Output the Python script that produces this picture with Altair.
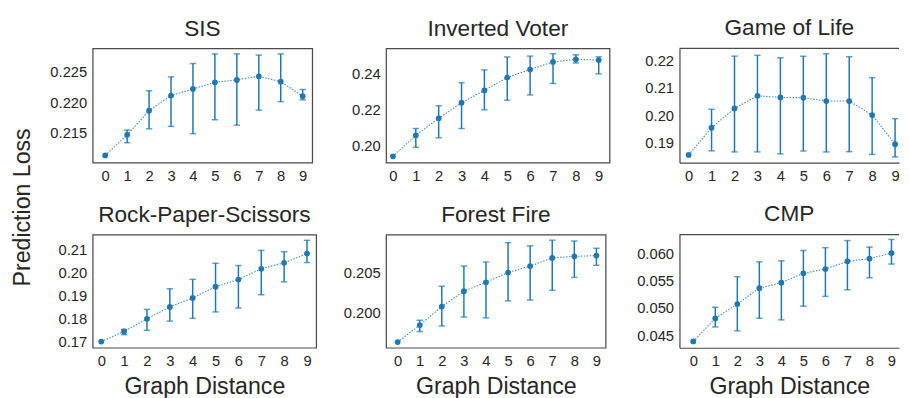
import altair as alt
import pandas as pd

BLUE = "#1f77b4"
FRAME = "#4a4a4a"
TEXT = "#262626"
FONT = "Liberation Sans"

distance = list(range(10))

titles = ["SIS", "Inverted Voter", "Game of Life",
          "Rock-Paper-Scissors", "Forest Fire", "CMP"]

sis_mean = [0.2112, 0.2146, 0.2186, 0.2211, 0.2222, 0.2233, 0.2237, 0.2243, 0.2234, 0.2210]
sis_lo = [0.2112, 0.2133, 0.2156, 0.2160, 0.2148, 0.2171, 0.2162, 0.2187, 0.2201, 0.2204]
sis_hi = [0.2112, 0.2154, 0.2219, 0.2242, 0.2264, 0.2280, 0.2280, 0.2278, 0.2280, 0.2221]

iv_mean = [0.1942, 0.2058, 0.2151, 0.2237, 0.2305, 0.2376, 0.2420, 0.2462, 0.2476, 0.2472]
iv_lo = [0.1942, 0.1991, 0.2044, 0.2095, 0.2198, 0.2251, 0.2280, 0.2343, 0.2456, 0.2396]
iv_hi = [0.1942, 0.2095, 0.2220, 0.2347, 0.2418, 0.2489, 0.2494, 0.2507, 0.2501, 0.2490]

gol_mean = [0.1856, 0.1955, 0.2025, 0.2071, 0.2065, 0.2064, 0.2052, 0.2052, 0.2001, 0.1895]
gol_lo = [0.1856, 0.1871, 0.1867, 0.1867, 0.1860, 0.1870, 0.1867, 0.1868, 0.1858, 0.1849]
gol_hi = [0.1856, 0.2022, 0.2215, 0.2218, 0.2209, 0.2215, 0.2224, 0.2213, 0.2137, 0.1988]

rps_mean = [0.1700, 0.1744, 0.1799, 0.1851, 0.1890, 0.1939, 0.1970, 0.2017, 0.2043, 0.2083]
rps_lo = [0.1700, 0.1730, 0.1749, 0.1789, 0.1801, 0.1829, 0.1846, 0.1904, 0.1960, 0.2044]
rps_hi = [0.1700, 0.1753, 0.1840, 0.1930, 0.1971, 0.2041, 0.2031, 0.2097, 0.2091, 0.2141]

ff_mean = [0.1964, 0.1985, 0.2008, 0.2027, 0.2038, 0.2050, 0.2058, 0.2068, 0.2070, 0.2071]
ff_lo = [0.1964, 0.1977, 0.1984, 0.1995, 0.1994, 0.2015, 0.2016, 0.2028, 0.2044, 0.2059]
ff_hi = [0.1964, 0.1991, 0.2033, 0.2058, 0.2063, 0.2087, 0.2083, 0.2090, 0.2089, 0.2080]

cmp_mean = [0.04386, 0.04807, 0.0507, 0.0536, 0.0546, 0.0563, 0.0571, 0.0585, 0.0590, 0.0600]
cmp_lo = [0.04386, 0.0465, 0.0458, 0.0481, 0.0478, 0.0503, 0.0521, 0.0533, 0.0555, 0.0580]
cmp_hi = [0.04386, 0.0501, 0.0557, 0.0584, 0.0586, 0.0605, 0.0610, 0.0623, 0.0611, 0.0625]

y_ticks = [
    [0.215, 0.220, 0.225],
    [0.20, 0.22, 0.24],
    [0.19, 0.20, 0.21, 0.22],
    [0.17, 0.18, 0.19, 0.20, 0.21],
    [0.200, 0.205],
    [0.045, 0.050, 0.055, 0.060],
]
y_formats = [".3f", ".2f", ".2f", ".2f", ".3f", ".3f"]
y_domains = [
    [0.2100, 0.2289],
    [0.1907, 0.2536],
    [0.1828, 0.2243],
    [0.1673, 0.2166],
    [0.1957, 0.2097],
    [0.0427, 0.0634],
]
x_domains = [
    [-0.570, 9.435], [-0.301, 9.475], [-0.399, 9.172],
    [-0.375, 9.401], [-0.524, 9.418], [-0.626, 9.343],
]
widths = [223, 227, 223, 227, 223, 223]
heights = [116, 116, 116, 115, 115, 115]

series = [
    (sis_mean, sis_lo, sis_hi),
    (iv_mean, iv_lo, iv_hi),
    (gol_mean, gol_lo, gol_hi),
    (rps_mean, rps_lo, rps_hi),
    (ff_mean, ff_lo, ff_hi),
    (cmp_mean, cmp_lo, cmp_hi),
]


def panel(i):
    mean, lo, hi = series[i]
    df = pd.DataFrame({"d": distance, "mean": mean, "lo": lo, "hi": hi})
    open_right = i in (2, 5)
    bottom_row = i >= 3
    x_axis_kw = dict(values=distance, format="d", ticks=False, labelPadding=6,
                     grid=False, domain=open_right, domainColor=FRAME,
                     domainWidth=1.25, titlePadding=6)
    if bottom_row:
        x_axis = alt.Axis(title="Graph Distance", **x_axis_kw)
    else:
        x_axis = alt.Axis(title=None, **x_axis_kw)
    y_axis = alt.Axis(values=y_ticks[i], format=y_formats[i], ticks=False,
                      labelPadding=6, grid=False, domain=open_right,
                      domainColor=FRAME, domainWidth=1.25, title=None,
                      minExtent=53, maxExtent=53)
    xs = alt.Scale(domain=x_domains[i], nice=False, zero=False)
    ys = alt.Scale(domain=y_domains[i], nice=False, zero=False)

    base = alt.Chart(df)
    err = base.transform_filter("datum.hi > datum.lo").mark_errorbar(
        ticks=True, size=6.5, thickness=1.5, color=BLUE
    ).encode(
        x=alt.X("d:Q", scale=xs, axis=x_axis),
        y=alt.Y("lo:Q", scale=ys, axis=y_axis),
        y2="hi:Q",
    )
    line = base.mark_line(color=BLUE, strokeWidth=1.1, strokeDash=[1.5, 1.5],
                          opacity=0.85).encode(
        x=alt.X("d:Q", scale=xs, axis=x_axis),
        y=alt.Y("mean:Q", scale=ys, axis=y_axis),
    )
    pts = base.mark_circle(size=34, color=BLUE, opacity=1).encode(
        x=alt.X("d:Q", scale=xs, axis=x_axis),
        y=alt.Y("mean:Q", scale=ys, axis=y_axis),
    )
    layers = [err, line, pts]
    if open_right:
        top = alt.Chart(pd.DataFrame({"k": [0]})).mark_rule(
            color=FRAME, strokeWidth=1.25
        ).encode(x=alt.value(0), x2=alt.value(widths[i]), y=alt.value(0))
        layers.append(top)
    ch = alt.layer(*layers).properties(
        width=widths[i], height=heights[i],
        title=alt.TitleParams(titles[i], fontSize=23, font=FONT,
                              fontWeight="normal", color=TEXT, offset=8),
    )
    if open_right:
        ch = ch.properties(view=alt.ViewBackground(stroke="transparent"))
    return ch


chart = alt.concat(
    *[panel(i) for i in range(6)],
    columns=3, spacing={"row": 73, "column": 71},
    bounds="flush", align="each",
).properties(
    title=alt.TitleParams("Prediction Loss", orient="left", anchor="middle",
                          fontSize=23.5, font=FONT, fontWeight="normal",
                          color=TEXT, offset=6),
    padding={"left": 2, "top": 5, "right": 0, "bottom": 0},
).configure_view(
    stroke=FRAME, strokeWidth=1.25
).configure_axis(
    labelFont=FONT, labelFontSize=15, labelColor=TEXT,
    titleFont=FONT, titleFontSize=23.5, titleFontWeight="normal",
    titleColor=TEXT,
)

chart.save("out.html", embed_options={"renderer": "svg", "actions": False})
